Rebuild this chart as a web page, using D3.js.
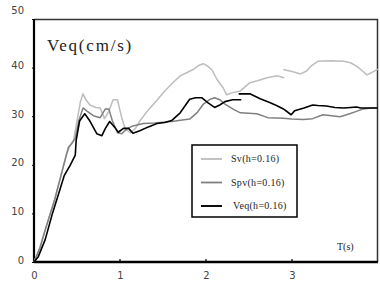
<!DOCTYPE html>
<html>
<head>
<meta charset="utf-8">
<script src="https://cdn.jsdelivr.net/npm/d3@7"></script>
<style>
  body { margin: 0; background: #fff; }
  svg { display: block; }
</style>
</head>
<body>
<div id="chart"></div>
<script>
// period axis values (s) and velocity series (cm/s); null = break in the curve
var svT  = [0, 0.07, 0.13, 0.24, 0.33, 0.38, 0.42, 0.46, 0.5, 0.54, 0.57, 0.6, 0.65, 0.72, 0.77, 0.82, 0.87, 0.92, 0.97, 1.02, 1.06, 1.12, 1.18, 1.23, 1.33, 1.43, 1.52, 1.62, 1.7, 1.78, 1.85, 1.92, 1.97, 2.02, 2.07, 2.13, 2.2, 2.24, 2.3, 2.4, 2.51, 2.6, 2.71, 2.83, 2.91, 2.91, 2.9, 3.0, 3.1, 3.17, 3.22, 3.3, 3.45, 3.6, 3.68, 3.75, 3.82, 3.87, 3.93, 4.0];
var svV  = [0, 3, 6.6, 12.8, 18.9, 22.3, 24, 25, 29, 33, 34.6, 33.5, 32.3, 31.8, 31.7, 29.5, 31, 33.4, 33.4, 29.7, 27.4, 26.6, 27.5, 29, 31.3, 33.3, 35.2, 37, 38.3, 39, 39.6, 40.5, 40.8, 40.3, 39.5, 37.5, 35.8, 34.4, 34.8, 35.2, 36.9, 37.3, 37.9, 38.3, 37.9, null, 39.6, 39.2, 38.7, 39.3, 40.3, 41.3, 41.4, 41.3, 41, 40.3, 39.3, 38.5, 39, 39.7];

var spvT = [0, 0.07, 0.13, 0.24, 0.33, 0.4, 0.44, 0.48, 0.52, 0.57, 0.62, 0.69, 0.77, 0.83, 0.87, 0.91, 0.97, 1.02, 1.08, 1.15, 1.27, 1.4, 1.6, 1.81, 1.9, 1.97, 2.05, 2.1, 2.16, 2.22, 2.32, 2.4, 2.59, 2.72, 2.9, 3.0, 3.13, 3.24, 3.36, 3.46, 3.56, 3.67, 3.75, 3.83, 3.92, 4.0];
var spvV = [0, 3, 6.6, 12.8, 18.9, 23.6, 24.4, 25.5, 29, 31.7, 31, 30.1, 29.7, 31.5, 31.5, 29.1, 26.6, 26.4, 27.4, 28, 28.5, 28.6, 28.9, 29.4, 30.8, 32.5, 33.5, 33.8, 33.4, 32.5, 31.4, 30.7, 30.5, 29.7, 29.6, 29.4, 29.3, 29.5, 30.3, 30.1, 29.9, 30.5, 31, 31.5, 31.7, 31.7];

var veqT = [0, 0.05, 0.13, 0.21, 0.3, 0.35, 0.42, 0.48, 0.49, 0.53, 0.59, 0.65, 0.73, 0.79, 0.83, 0.88, 0.94, 0.98, 1.04, 1.1, 1.15, 1.23, 1.33, 1.43, 1.52, 1.6, 1.7, 1.81, 1.88, 1.95, 2.02, 2.1, 2.16, 2.22, 2.31, 2.41, 2.41, 2.38, 2.51, 2.63, 2.74, 2.82, 2.9, 2.99, 3.03, 3.14, 3.24, 3.3, 3.4, 3.5, 3.6, 3.68, 3.75, 3.8, 4.0];
var veqV = [0, 1.1, 4.6, 9.7, 14.8, 17.7, 19.9, 22, 25, 29, 30.5, 29, 26.4, 26, 27.5, 28.9, 27.7, 26.7, 27.5, 27.5, 26.5, 27, 27.8, 28.5, 28.7, 29.1, 30.7, 33.5, 33.8, 33.8, 32.8, 31.8, 32.3, 33, 33.4, 33.4, null, 34.6, 34.6, 33.6, 32.8, 32.2, 31.5, 30.3, 31.1, 31.7, 32.3, 32.2, 32.1, 31.8, 31.7, 31.8, 31.9, 31.7, 31.7];

var xTicks = [0, 1, 2, 3];
var yTicks = [0, 10, 20, 30, 40, 50];
var seriesNames = ["Sv(h=0.16)", "Spv(h=0.16)", "Veq(h=0.16)"];

// svg setup
var svgWidth = 380;
var svgHeight = 287;
var margin = { top: 19, right: 2, bottom: 25, left: 34 };
var width = svgWidth - margin.left - margin.right;
var height = svgHeight - margin.top - margin.bottom;

var svg = d3.select("#chart")
  .append("svg")
  .attr("width", svgWidth)
  .attr("height", svgHeight);

var chartGroup = svg.append("g")
  .attr("transform", `translate(${margin.left}, ${margin.top})`);

// scales
var xScale = d3.scaleLinear().domain([0, 4]).range([0, width]);
var yScale = d3.scaleLinear().domain([0, 50]).range([height, 0]);

// frame: thin top/right border
chartGroup.append("path")
  .attr("d", `M0,0.5 H${width - 0.5} V${height}`)
  .attr("fill", "none")
  .attr("stroke", "#333")
  .attr("stroke-width", 1.5);

// axes
var bottomAxis = d3.axisBottom(xScale).tickValues(xTicks).tickFormat(d3.format("d")).tickSize(0).tickPadding(10);
var leftAxis = d3.axisLeft(yScale).tickValues(yTicks).tickSize(2).tickPadding(8);

var xg = chartGroup.append("g")
  .attr("transform", `translate(0, ${height})`)
  .call(bottomAxis);
xg.select(".domain").remove();
xg.selectAll("text")
  .attr("font-family", "DejaVu Sans")
  .attr("font-size", 10)
  .attr("fill", "#444");

// small upward ticks on x axis
chartGroup.selectAll(".xtick")
  .data(xTicks.filter(d => d > 0))
  .enter()
  .append("line")
  .attr("x1", d => xScale(d))
  .attr("x2", d => xScale(d))
  .attr("y1", height)
  .attr("y2", height - 3)
  .attr("stroke", "#000")
  .attr("stroke-width", 1.2);

var yg = chartGroup.append("g").call(leftAxis);
yg.select(".domain").remove();
yg.selectAll("line").attr("stroke", "#000");
yg.selectAll("text")
  .attr("font-family", "DejaVu Sans")
  .attr("font-size", 10)
  .attr("fill", "#444")
  .attr("dy", d => d === 50 ? "-0.6em" : "0.1em");

// thick axis lines
chartGroup.append("line")
  .attr("x1", 0).attr("x2", 0)
  .attr("y1", 0).attr("y2", height)
  .attr("stroke", "#000").attr("stroke-width", 2.2);
chartGroup.append("line")
  .attr("x1", 0).attr("x2", width)
  .attr("y1", height).attr("y2", height)
  .attr("stroke", "#000").attr("stroke-width", 2.5);

// lines
var line = d3.line()
  .defined(d => d[1] !== null)
  .x(d => xScale(d[0]))
  .y(d => yScale(d[1]));

var series = [
  { t: svT, v: svV, color: "#bdbdbd", w: 1.5 },
  { t: spvT, v: spvV, color: "#808080", w: 1.5 },
  { t: veqT, v: veqV, color: "#000", w: 1.6 }
];

series.forEach(function (s) {
  chartGroup.append("path")
    .datum(d3.zip(s.t, s.v))
    .attr("fill", "none")
    .attr("stroke", s.color)
    .attr("stroke-width", s.w)
    .attr("stroke-linejoin", "round")
    .attr("d", line);
});

// title
chartGroup.append("text")
  .attr("x", 13)
  .attr("y", 32)
  .attr("font-family", "Liberation Serif")
  .attr("font-size", 17)
  .attr("letter-spacing", 1.8)
  .attr("fill", "#222")
  .text("Veq(cm/s)");

// T(s) label
chartGroup.append("text")
  .attr("x", 303)
  .attr("y", 231)
  .attr("font-family", "Liberation Serif")
  .attr("font-size", 10)
  .attr("fill", "#222")
  .text("T(s)");

// legend
var legend = chartGroup.append("g")
  .attr("transform", "translate(158, 126)");

legend.append("rect")
  .attr("width", 105)
  .attr("height", 72)
  .attr("fill", "#fff")
  .attr("stroke", "#000")
  .attr("stroke-width", 1.5);

var legendItems = legend.selectAll(".item")
  .data(series)
  .enter()
  .append("g")
  .attr("transform", (d, i) => `translate(0, ${14 + i * 23.5})`);

legendItems.append("line")
  .attr("x1", 9).attr("x2", 30)
  .attr("y1", 0).attr("y2", 0)
  .attr("stroke", d => d.color)
  .attr("stroke-width", d => d.w + 0.3);

legendItems.append("text")
  .attr("x", (d, i) => i === 2 ? 41 : 39)
  .attr("y", 3)
  .attr("font-family", "Liberation Serif")
  .attr("font-size", 10)
  .attr("letter-spacing", 0.3)
  .attr("fill", "#222")
  .text((d, i) => seriesNames[i]);
</script>
</body>
</html>
